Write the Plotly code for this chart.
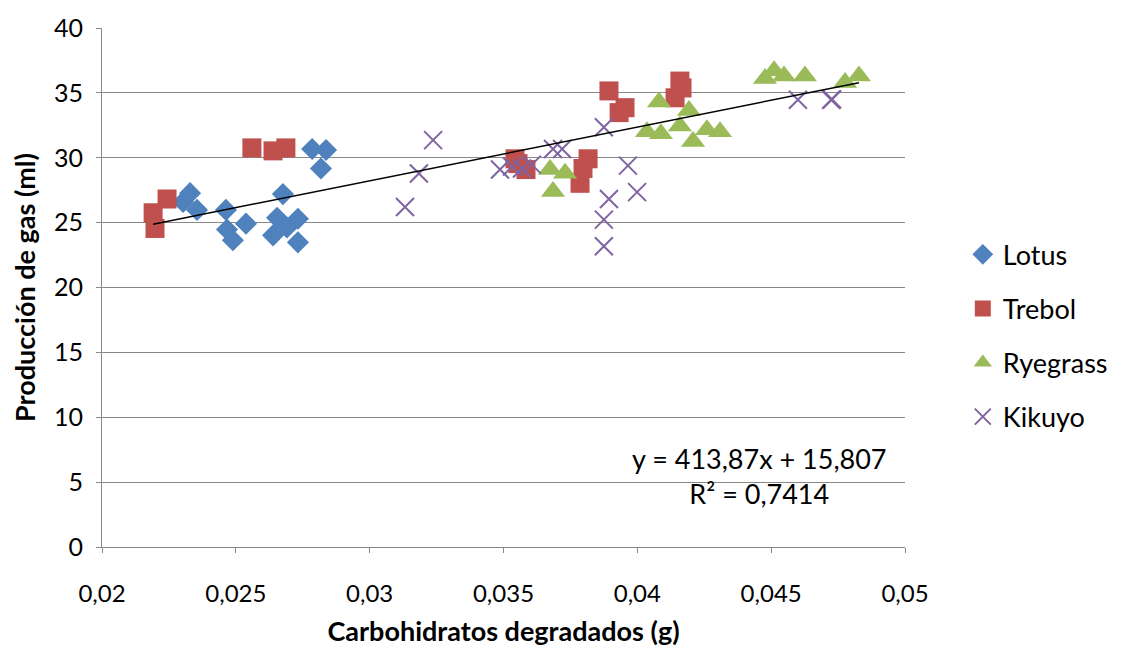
import plotly.graph_objects as go
import numpy as np

# ---- data ----
lotus_x = [0.02329, 0.02303, 0.02355, 0.02463, 0.02467, 0.02489, 0.02538, 0.02676,
           0.02654, 0.02639, 0.02691, 0.02732, 0.02732, 0.02785, 0.02837, 0.02818]
lotus_y = [27.27, 26.59, 25.98, 25.98, 24.47, 23.64, 24.92, 27.2,
           25.38, 24.02, 24.62, 25.3, 23.48, 30.68, 30.6, 29.17]

trebol_x = [0.02191, 0.02198, 0.02243, 0.0256, 0.02639, 0.02687, 0.03543, 0.03554, 0.03584,
            0.03786, 0.03797, 0.03816, 0.03894, 0.03932, 0.03954, 0.04141, 0.04159, 0.04167]
trebol_y = [25.76, 24.55, 26.82, 30.76, 30.53, 30.76, 29.92, 29.55, 29.09,
            28.03, 29.17, 29.92, 35.15, 33.48, 33.86, 34.62, 35.91, 35.38]

rye_x = [0.03674, 0.0373, 0.03685, 0.04036, 0.04081, 0.04088, 0.04193, 0.04159, 0.04208,
         0.0426, 0.04309, 0.04477, 0.04511, 0.04548, 0.04626, 0.04776, 0.04828]
rye_y = [29.1, 28.8, 27.4, 32.0, 34.3, 31.85, 33.65, 32.45, 31.25,
         32.15, 32.0, 36.1, 36.7, 36.3, 36.3, 35.8, 36.3]

kik_x = [0.03132, 0.03184, 0.03237, 0.03487, 0.03532, 0.03569, 0.03606, 0.03685, 0.03719,
         0.03875, 0.03965, 0.03999, 0.03894, 0.03875, 0.03875, 0.046, 0.04724, 0.04728]
kik_y = [26.21, 28.79, 31.36, 29.09, 29.32, 29.17, 29.47, 30.68, 30.68,
         32.35, 29.39, 27.35, 26.82, 25.23, 23.18, 34.47, 34.47, 34.5]

# trendline reported by the chart
slope = 413.87
intercept = 15.807
eq_text = "y = 413,87x + 15,807<br>R² = 0,7414"

x_ticks = [0.02, 0.025, 0.03, 0.035, 0.04, 0.045, 0.05]
x_ticktext = ["0,02", "0,025", "0,03", "0,035", "0,04", "0,045", "0,05"]
y_ticks = [0, 5, 10, 15, 20, 25, 30, 35, 40]

FONT = "Lato"
GRID = "#888888"

fig = go.Figure()
series = [
    ("Lotus", lotus_x, lotus_y, "diamond", "#4F81BD", 17),
    ("Trebol", trebol_x, trebol_y, "square", "#C0504D", 19),
    ("Ryegrass", rye_x, rye_y, "triangle-up", "#9BBB59", 21),
]
for i, (name, xs, ys, sym, col, sz) in enumerate(series):
    fig.add_trace(go.Scatter(
        x=xs, y=ys, mode="markers", name=name, legendgroup=name,
        marker=dict(symbol=sym, color=col, size=sz, line=dict(width=0)),
    ))
fig.add_trace(go.Scatter(
    x=kik_x, y=kik_y, mode="markers", name="Kikuyo", legendgroup="Kikuyo",
    marker=dict(symbol="x-thin-open", color="#8064A2", size=18,
                line=dict(width=2, color="#8064A2")),
))

all_x = lotus_x + trebol_x + rye_x + kik_x
tx = np.array([min(all_x), max(all_x)])
fig.add_trace(go.Scatter(
    x=tx, y=slope * tx + intercept, mode="lines", showlegend=False,
    line=dict(color="black", width=1.5), hoverinfo="skip",
))

fig.add_annotation(
    x=0.04455, y=5.5, xref="x", yref="y", text=eq_text, showarrow=False,
    align="center", font=dict(family=FONT, size=27, color="black"),
)

fig.update_layout(
    width=1126, height=654,
    margin=dict(l=102, r=221, t=19, b=107),
    paper_bgcolor="white", plot_bgcolor="white",
    font=dict(family=FONT, size=24, color="black"),
    legend=dict(x=1.072, y=0.407, xanchor="left", yanchor="middle",
                font=dict(family=FONT, size=27), tracegroupgap=16,
                itemwidth=30, bgcolor="rgba(0,0,0,0)"),
    showlegend=True,
)
fig.update_xaxes(
    range=[0.02, 0.05], tickvals=x_ticks, ticktext=x_ticktext,
    showgrid=False, zeroline=False, showline=True, linecolor=GRID, linewidth=1,
    ticks="outside", ticklen=5, tickcolor=GRID, ticklabelstandoff=20,
    tickfont=dict(family=FONT, size=24),
    title=dict(text="<b>Carbohidratos degradados (g)</b>", standoff=16,
               font=dict(family=FONT, size=27)),
)
fig.update_yaxes(
    range=[0, 40], tickvals=y_ticks,
    showgrid=True, gridcolor=GRID, gridwidth=1, zeroline=False,
    showline=True, linecolor=GRID, linewidth=1,
    ticks="outside", ticklen=5, tickcolor=GRID, ticklabelstandoff=8,
    tickfont=dict(family=FONT, size=25),
    title=dict(text="<b>Producción de gas (ml)</b>", standoff=10,
               font=dict(family=FONT, size=27)),
)

fig.write_html("out.html")
